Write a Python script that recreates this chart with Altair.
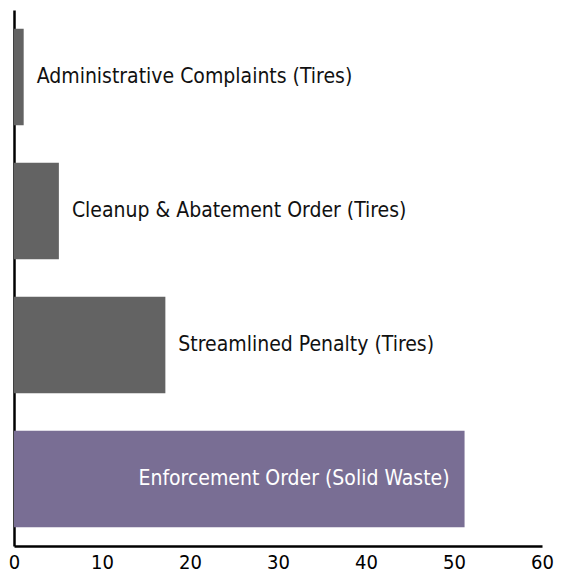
import altair as alt
import pandas as pd

categories = [
    "Administrative Complaints (Tires)",
    "Cleanup & Abatement Order (Tires)",
    "Streamlined Penalty (Tires)",
    "Enforcement Order (Solid Waste)",
]
values = [1.1, 5.1, 17.2, 51.2]
groups = ["Tires", "Tires", "Tires", "Solid Waste"]
colors = ["#636363", "#796e94"]
x_ticks = [0, 10, 20, 30, 40, 50, 60]

df = pd.DataFrame({"category": categories, "value": values, "group": groups})

FONT = "DejaVu Sans Condensed, Roboto, sans-serif"

y_enc = alt.Y(
    "category:N",
    sort=categories,
    scale=alt.Scale(paddingInner=0.28, paddingOuter=0.14),
    axis=alt.Axis(labels=False, ticks=False, title=None, domainColor="black", domainWidth=2.5),
)
x_enc = alt.X(
    "value:Q",
    scale=alt.Scale(domain=[0, 60], nice=False),
    axis=alt.Axis(
        values=x_ticks, ticks=False, grid=False, title=None, domainColor="black",
        domainWidth=2.5, labelFontSize=20, labelColor="black", labelFont=FONT,
        labelPadding=6, labelFlush=False, format="d",
    ),
)

bars = alt.Chart(df).mark_bar().encode(
    x=x_enc,
    y=y_enc,
    color=alt.Color("group:N", scale=alt.Scale(domain=["Tires", "Solid Waste"], range=colors), legend=None),
)

outside = alt.Chart(df).transform_filter(alt.datum.group == "Tires").mark_text(
    align="left", baseline="middle", dx=13, fontSize=21, font=FONT, color="#111111"
).encode(x="value:Q", y=alt.Y("category:N", sort=categories), text="category:N")

inside = alt.Chart(df).transform_filter(alt.datum.group == "Solid Waste").mark_text(
    align="right", baseline="middle", dx=-15, fontSize=21, font=FONT, color="white"
).encode(x="value:Q", y=alt.Y("category:N", sort=categories), text="category:N")

chart = alt.layer(bars, outside, inside).properties(
    width=528, height=536,
    padding={"left": 0, "top": 2, "right": 0, "bottom": 0},
).configure_view(stroke=None)

chart.save("out.html", embed_options={"renderer": "svg", "actions": False})
